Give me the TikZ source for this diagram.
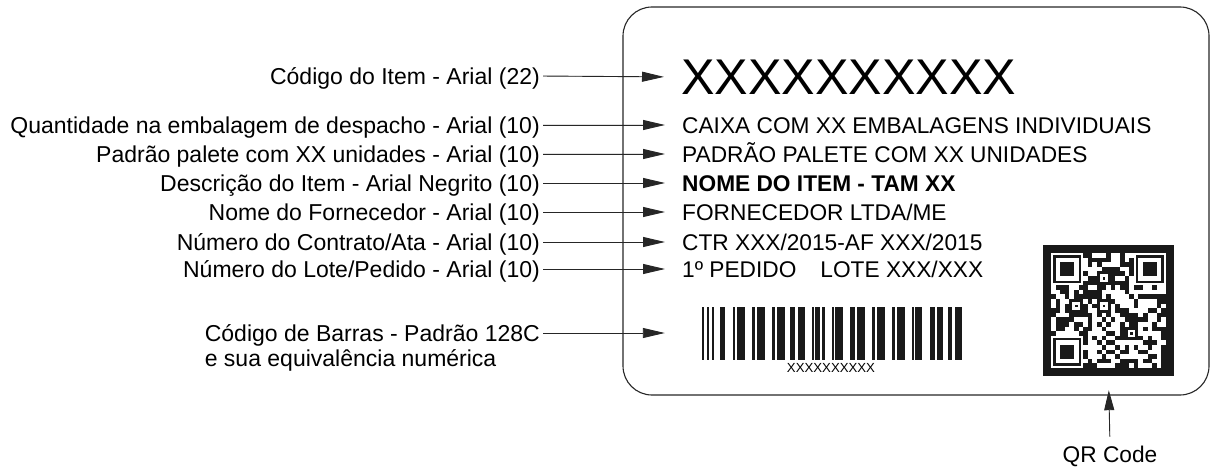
\documentclass[tikz,border=0pt]{standalone}
\usepackage{fontspec}
\setmainfont{Liberation Sans}
\usetikzlibrary{arrows.meta,calc}
\begin{document}
\begin{tikzpicture}[x=1pt,y=-1pt,
  lbl/.style={font=\fontsize{23}{27}\selectfont, inner sep=0pt, text height=16.4pt, text depth=0pt, anchor=east},
  txt/.style={font=\fontsize{22.7}{27}\selectfont, inner sep=0pt, text height=16.3pt, text depth=0pt, anchor=west},
  arr/.style={-{Triangle[length=22pt,width=10pt]}, line width=0.9pt, draw=black!85, fill=black, shorten <=3pt, shorten >=17pt},
  frame/.style={draw=black!85, line width=1.1pt, rounded corners=29pt},
]
\useasboundingbox (0,0) rectangle (1210,468);

% label frame
\draw[frame] (623,7) rectangle (1209,395);

% left labels
\node[lbl] (l1) at (540,76) {Código do Item - Arial (22)};
\node[lbl] (l2) at (540,125) {Quantidade na embalagem de despacho - Arial (10)};
\node[lbl] (l3) at (540,154) {Padrão palete com XX unidades - Arial (10)};
\node[lbl] (l4) at (540,183) {Descrição do Item - Arial Negrito (10)};
\node[lbl] (l5) at (540,212) {Nome do Fornecedor - Arial (10)};
\node[lbl] (l6) at (540,242) {Número do Contrato/Ata - Arial (10)};
\node[lbl] (l7) at (540,269) {Número do Lote/Pedido - Arial (10)};
\node[lbl] (l8) at (540,333) {Código de Barras - Padrão 128C};
\node[lbl, anchor=west] (l8b) at ($(l8.west)+(0,25)$) {e sua equivalência numérica};

% label contents
\node[txt, font=\fontsize{50.2}{56}\selectfont, text height=36pt] (t1) at (681,77) {XXXXXXXXXX};
\node[txt] (t2) at (682,125) {CAIXA COM XX EMBALAGENS INDIVIDUAIS};
\node[txt] (t3) at (682,154) {PADRÃO PALETE COM XX UNIDADES};
\node[txt, font=\fontsize{22.7}{27}\selectfont\bfseries] (t4) at (682,183) {NOME DO ITEM - TAM XX};
\node[txt] (t5) at (682,212) {FORNECEDOR LTDA/ME};
\node[txt] (t6) at (682,242) {CTR XXX/2015-AF XXX/2015};
\node[txt] (t7) at (682,269) {1º PEDIDO\hspace{24pt}LOTE XXX/XXX};

% barcode
\node[inner sep=0pt, minimum width=260pt, minimum height=53pt] (bar) at (832,333) {};
\foreach \a/\b in {702/704.3,707/708.6,712/713.6,720/725,733/735,737/745,752/755,757/765,772/775,777/785,790/795,798/805,812/813.6,815/820,822/825,832/833.6,835/843,850/855,857/865,872/875,877/885,892/895,897/905,912/913.6,915/922,930/935,937/943,948/952,955/962}
  \fill[black!90] (\a,306.5) rectangle (\b,359.5);
\node[inner sep=0pt, font=\fontsize{13.2}{15}\selectfont] (bnum) at (831,368) {XXXXXXXXXX};

% QR code
\node[inner sep=0pt, minimum size=131pt] (qr) at (1108.5,310.5) {};
\fill[black!90] (1043,245) rectangle (1174,376);
\fill[white] (1051,253) rectangle (1166,368);
\pgfmathsetseed{12}
\foreach \i in {0,...,24}{
  \foreach \j in {0,...,24}{
    \pgfmathtruncatemacro\r{rnd>0.52?1:0}
    \ifnum\r=1
      \fill[black!90] ({1051+\i*4.6},{253+\j*4.6}) rectangle ++(4.6,4.6);
    \fi
  }
}
\foreach \fx/\fy in {0/0,18/0,0/18}{
  \fill[white] ({1051+\fx*4.6},{253+\fy*4.6}) rectangle ++(32.2,32.2);
  \fill[black!90] ({1051+\fx*4.6+2.3},{253+\fy*4.6+2.3}) rectangle ++(27.6,27.6);
  \fill[white] ({1051+\fx*4.6+4.6},{253+\fy*4.6+4.6}) rectangle ++(23,23);
  \fill[black!90] ({1051+\fx*4.6+9.2},{253+\fy*4.6+9.2}) rectangle ++(13.8,13.8);
}
\foreach \fx/\fy in {10/10,16/16,10/4,4/10}{
  \fill[black!90] ({1051+\fx*4.6},{253+\fy*4.6}) rectangle ++(13.8,13.8);
  \fill[white] ({1051+\fx*4.6+3},{253+\fy*4.6+3}) rectangle ++(7.8,7.8);
  \fill[black!90] ({1051+\fx*4.6+5.5},{253+\fy*4.6+5.5}) rectangle ++(2.8,2.8);
}
\node[inner sep=0pt, font=\fontsize{22.7}{27}\selectfont, text height=16.3pt, text depth=0pt] (qrl) at (1110,454) {QR Code};

% connectors
\draw[arr] (l1.east) -- (t1.west);
\draw[arr] (l2.east) -- (t2.west);
\draw[arr] (l3.east) -- (t3.west);
\draw[arr] (l4.east) -- (t4.west);
\draw[arr] (l5.east) -- (t5.west);
\draw[arr] (l6.east) -- (t6.west);
\draw[arr] (l7.east) -- (t7.west);
\draw[arr, shorten >=37pt] (l8.east) -- (bar.west);
\draw[arr, -{Triangle[length=20pt,width=10pt]}, shorten <=9pt, shorten >=14pt] (qrl.north) -- (qr.south);
\end{tikzpicture}
\end{document}
